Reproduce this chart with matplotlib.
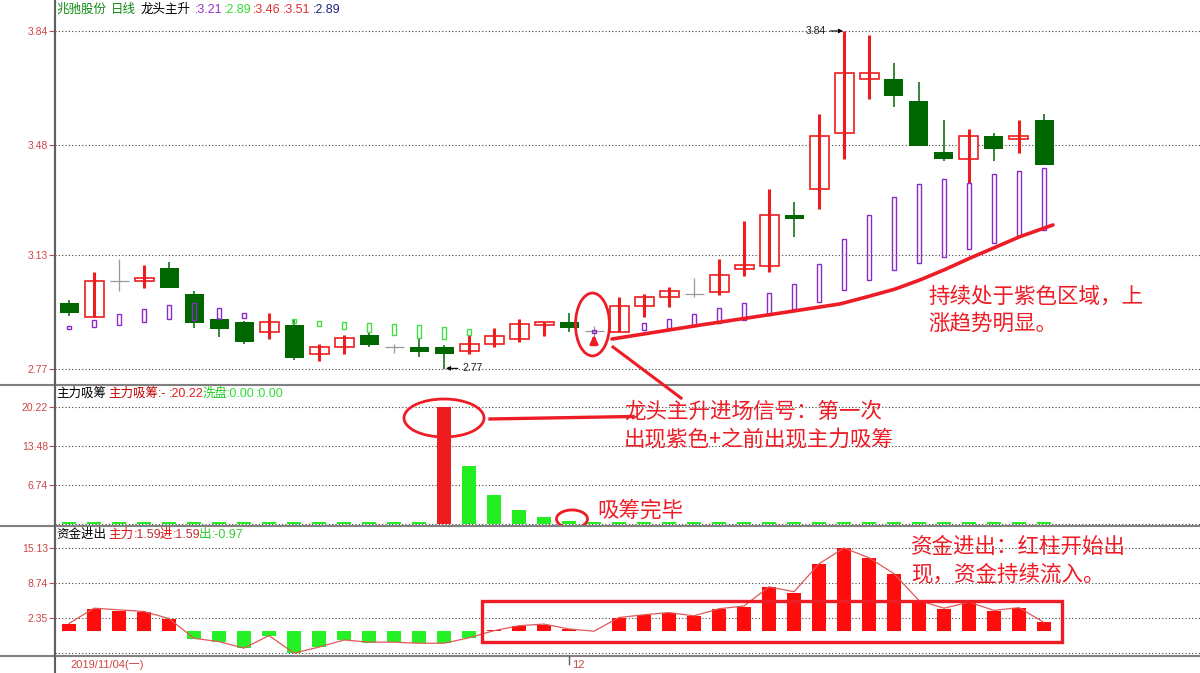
import numpy as np
import matplotlib.pyplot as plt
from matplotlib.patches import Ellipse, Rectangle
from matplotlib.lines import Line2D

plt.rcParams['font.family'] = ['Noto Sans CJK SC', 'DejaVu Sans']

W, H = 1200, 673
nan = np.nan

# 日K线: 开 高 低 收
opens = [2.980, 2.936, 3.049, 3.047, 3.090, 3.007, 2.928, 2.919, 2.886, 2.908,
         2.817, 2.840, 2.878, 2.839, 2.840, 2.839, 2.827, 2.848, 2.866, 2.908,
         2.919, 2.889, 2.886, 2.969, 2.997, 3.006, 3.015, 3.088, 3.097, 3.257,
         3.339, 3.516, 3.687, 3.688, 3.618, 3.457, 3.436, 3.508, 3.497, 3.558]
highs = [2.988, 3.077, 3.118, 3.099, 3.109, 3.017, 2.930, 2.922, 2.948, 2.928,
         2.849, 2.878, 2.888, 2.849, 2.868, 2.845, 2.878, 2.899, 2.927, 2.918,
         2.946, 2.906, 2.999, 3.007, 3.030, 3.057, 3.118, 3.239, 3.340, 3.298,
         3.577, 3.840, 3.827, 3.740, 3.680, 3.558, 3.531, 3.518, 3.558, 3.577]
lows = [2.938, 2.935, 3.017, 3.027, 3.027, 2.901, 2.871, 2.850, 2.866, 2.798,
        2.796, 2.817, 2.840, 2.820, 2.809, 2.770, 2.817, 2.840, 2.856, 2.875,
        2.888, 2.870, 2.886, 2.936, 2.967, 2.999, 3.004, 3.065, 3.076, 3.189,
        3.277, 3.436, 3.626, 3.600, 3.477, 3.429, 3.358, 3.429, 3.455, 3.417]
closes = [2.946, 3.049, 3.049, 3.058, 3.027, 2.917, 2.898, 2.856, 2.919, 2.806,
          2.840, 2.868, 2.847, 2.839, 2.825, 2.817, 2.848, 2.875, 2.911, 2.918,
          2.899, 2.889, 2.969, 2.999, 3.017, 3.006, 3.067, 3.098, 3.257, 3.246,
          3.508, 3.708, 3.708, 3.635, 3.477, 3.436, 3.508, 3.467, 3.508, 3.417]

# 龙头主升 紫色柱 (上沿, 下沿)
purple_top = [2.906, 2.925, 2.944, 2.960, 2.972, 2.979, 2.963, 2.947, nan, nan,
              nan, nan, nan, nan, nan, nan, nan, nan, nan, nan,
              nan, 2.893, nan, 2.915, 2.927, 2.944, 2.964, 2.978, 3.010, 3.039,
              3.102, 3.181, 3.258, 3.314, 3.356, 3.371, 3.358, 3.387, 3.397, 3.405]
purple_bot = [2.897, 2.903, 2.909, 2.920, 2.928, 2.925, 2.928, 2.931, nan, nan,
              nan, nan, nan, nan, nan, nan, nan, nan, nan, nan,
              nan, 2.884, nan, 2.893, 2.901, 2.907, 2.917, 2.925, 2.941, 2.959,
              2.983, 3.020, 3.052, 3.083, 3.107, 3.125, 3.149, 3.168, 3.191, 3.210]
# 浅绿柱
lime_top = [nan, nan, nan, nan, nan, nan, nan, nan, nan, 2.928,
            2.923, 2.919, 2.916, 2.912, 2.909, 2.903, 2.897, nan, nan, nan,
            nan, nan, nan, nan, nan, nan, nan, nan, nan, nan,
            nan, nan, nan, nan, nan, nan, nan, nan, nan, nan]
lime_bot = [nan, nan, nan, nan, nan, nan, nan, nan, nan, 2.916,
            2.907, 2.898, 2.888, 2.878, 2.868, 2.866, 2.878, nan, nan, nan,
            nan, nan, nan, nan, nan, nan, nan, nan, nan, nan,
            nan, nan, nan, nan, nan, nan, nan, nan, nan, nan]

# 主力吸筹 / 洗盘
zhuli_xichou = [0, 0, 0, 0, 0, 0, 0, 0, 0, 0,
                0, 0, 0, 0, 0, 20.22, 0, 0, 0, 0,
                0, 0, 0, 0, 0, 0, 0, 0, 0, 0,
                0, 0, 0, 0, 0, 0, 0, 0, 0, 0]
xipan = [0.3, 0.3, 0.3, 0.3, 0.3, 0.3, 0.3, 0.3, 0.3, 0.3,
         0.3, 0.3, 0.3, 0.3, 0.3, 0, 10.02, 5.01, 2.42, 1.21,
         0.5, 0.3, 0.3, 0.3, 0.3, 0.3, 0.3, 0.3, 0.3, 0.3,
         0.3, 0.3, 0.3, 0.3, 0.3, 0.3, 0.3, 0.3, 0.3, 0.3]

# 资金进出
zijin = [1.31, 4.05, 3.63, 3.45, 2.23, -1.37, -1.97, -3.00, -0.82, -3.93,
         -2.88, -1.61, -2.10, -2.05, -2.20, -2.20, -1.30, 0.20, 1.00, 1.20,
         0.40, 0.10, 2.47, 2.96, 3.32, 2.72, 4.05, 4.47, 8.07, 7.03,
         12.27, 15.19, 13.37, 10.45, 5.46, 4.11, 5.28, 3.74, 4.29, 1.59]
jin_line = [1.4, 4.2, 3.9, 3.6, 2.3, -1.3, -1.9, -3.1, -0.8, -4.0,
            -2.9, -1.6, -2.0, -2.0, -2.2, -2.2, -1.2, 0.1, 1.0, 1.3,
            0.4, 0.0, 2.5, 3.0, 3.4, 2.8, 4.1, 4.6, 8.1, 7.2,
            12.3, 15.2, 13.4, 10.5, 5.6, 4.2, 5.3, 3.8, 4.3, 1.6]

price_ticks = [3.84, 3.48, 3.13, 2.77]
mid_ticks = [20.22, 13.48, 6.74]
bot_ticks = [15.13, 8.74, 2.35]

RED = '#ee1c1c'
DGREEN = '#006600'
PURPLE = '#8a2bc8'
LIME = '#44dd44'
BGREEN = '#22ee22'
TICKC = '#cc4444'
ANN = '#ee1c25'


def fx(px):
    return px / W


def fy(py):
    return 1 - py / H


fig = plt.figure(figsize=(12, 6.73), dpi=100)
fig.patch.set_facecolor('white')

x0, x1 = 55, 1200
ax1 = fig.add_axes([fx(x0), fy(385), fx(x1) - fx(x0), (385 - 0) / H])
ax2 = fig.add_axes([fx(x0), fy(525), fx(x1) - fx(x0), (525 - 385) / H])
ax3 = fig.add_axes([fx(x0), fy(656), fx(x1) - fx(x0), (656 - 525) / H])

xlim = (-0.56, 45.24)


def style(ax, ticks, grid_vals, ylim):
    ax.set_xlim(*xlim)
    ax.set_ylim(*ylim)
    for s in ['top', 'right', 'bottom']:
        ax.spines[s].set_visible(False)
    ax.spines['left'].set_color('#606060')
    ax.spines['left'].set_linewidth(1.5)
    ax.set_xticks([])
    ax.set_yticks(ticks)
    ax.set_yticklabels(['%.2f' % t for t in ticks])
    ax.tick_params(axis='y', colors=TICKC, labelsize=7.5, length=4, width=0.8, pad=1)
    for lab in ax.get_yticklabels():
        lab.set_family(['Liberation Sans', 'DejaVu Sans'])
    for g in grid_vals:
        ax.axhline(g, color='#444444', lw=0.8, ls=(0, (1, 2)), zorder=0)


style(ax1, price_ticks, price_ticks, (2.7194, 3.938))
style(ax2, mid_ticks, mid_ticks + [0.0], (-0.21, 23.93))
style(ax3, bot_ticks, bot_ticks + [-4.04], (-4.53, 19.39))

# ---- K线
o = np.array(opens)
h = np.array(highs)
l = np.array(lows)
c = np.array(closes)
xs = np.arange(len(o))
up = c > o
dn = c < o
flat = c == o
bw = 0.76

ax1.bar(xs[dn], (o - c)[dn], bottom=c[dn], width=bw, color=DGREEN, zorder=3)
ax1.vlines(xs[dn], l[dn], h[dn], color=DGREEN, lw=1.1, zorder=2)
ax1.bar(xs[up], (c - o)[up], bottom=o[up], width=bw, facecolor='white',
        edgecolor=RED, lw=1.2, zorder=3)
ax1.vlines(xs[up], l[up], h[up], color=RED, lw=2.2, zorder=4)
ax1.vlines(xs[flat], l[flat], h[flat], color='#999999', lw=0.9, zorder=3)
ax1.hlines(c[flat], xs[flat] - bw / 2, xs[flat] + bw / 2, color='#999999', lw=0.9, zorder=3)

pt = np.array(purple_top)
pb = np.array(purple_bot)
m = ~np.isnan(pt)
ax1.bar(xs[m], (pt - pb)[m], bottom=pb[m], width=0.16, facecolor='none',
        edgecolor=PURPLE, lw=1.0, zorder=5)
lt = np.array(lime_top)
lb = np.array(lime_bot)
m = ~np.isnan(lt)
ax1.bar(xs[m], (lt - lb)[m], bottom=lb[m], width=0.16, facecolor='none',
        edgecolor=LIME, lw=1.0, zorder=5)

# 最高/最低标注
ax1.annotate('3.84', xy=(30.96, 3.84), xytext=(30.28, 3.84), ha='right', va='center',
             fontsize=7.5, family=['Liberation Sans', 'DejaVu Sans'], color='#222222',
             arrowprops=dict(arrowstyle='-|>', color='black', lw=0.8, mutation_scale=6,
                             shrinkA=1, shrinkB=0))
ax1.annotate('2.77', xy=(15.08, 2.772), xytext=(15.72, 2.772), ha='left', va='center',
             fontsize=7.5, family=['Liberation Sans', 'DejaVu Sans'], color='#222222',
             arrowprops=dict(arrowstyle='-|>', color='black', lw=0.8, mutation_scale=6,
                             shrinkA=1, shrinkB=0))

# ---- 主力吸筹
ax2.bar(xs, zhuli_xichou, width=0.58, color=RED, zorder=3)
ax2.bar(xs, xipan, width=0.58, color=BGREEN, zorder=3)

# ---- 资金进出
zj = np.array(zijin)
ax3.bar(xs, zj, width=0.58, color=np.where(zj >= 0, '#ff0d0d', '#26f026'), zorder=3)
ax3.plot(xs, jin_line, color='#e05858', lw=0.9, zorder=4)

# ---- 分隔线
for yy in [385, 525.5, 656]:
    fig.add_artist(Line2D([0, 1], [fy(yy), fy(yy)], transform=fig.transFigure,
                          color='#808080', lw=1.5))
fig.add_artist(Line2D([fx(55), fx(55)], [fy(18), fy(673)], transform=fig.transFigure,
                      color='#606060', lw=1.5))

# ---- 标题栏
num = ['Liberation Sans', 'Noto Sans CJK SC']


def head(px, py, s, col):
    fig.text(fx(px), fy(py), s, color=col, fontsize=9, va='center', ha='left', family=num)


head(56, 10, '兆驰股份', '#108a10')
head(111, 10, '日线', '#108a10')
head(141, 10, '龙头主升', 'black')
head(195, 10, ':3.21', '#9933cc')
head(224, 10, ':2.89', '#33dd33')
head(253, 10, ':3.46', '#e03030')
head(283, 10, ':3.51', '#e03030')
head(313, 10, ':2.89', '#222288')

head(56, 394, '主力吸筹', 'black')
head(108, 394, '主力吸筹:-', '#c00000')
head(169, 394, ':20.22', '#e02020')
head(203, 394, '洗盘', '#22cc22')
head(227, 394, ':0.00', '#33dd33')
head(256, 394, ':0.00', '#33dd33')

head(56, 535, '资金进出', 'black')
head(108, 535, '主力', '#e01010')
head(134, 535, ':1.59', '#c03030')
head(160, 535, '进', '#e01010')
head(173, 535, ':1.59', '#c03030')
head(199, 535, '出', '#22cc22')
head(212, 535, ':-0.97', '#33cc33')

# ---- 日期
fig.text(fx(70), fy(665), '2019/11/04(一)', color=TICKC, fontsize=8, va='center', family=num)
fig.add_artist(Line2D([fx(569), fx(569)], [fy(656), fy(664)], transform=fig.transFigure,
                      color='#606060', lw=1))
fig.text(fx(572), fy(665), '12', color=TICKC, fontsize=8, va='center', family=num)

# ---- 注释
ax1.add_patch(Ellipse((20.94, 2.911), 1.36, 0.199, fill=False, ec=ANN, lw=2.0,
                      zorder=6, clip_on=False))
ax1.annotate('', xy=(21.0, 2.886), xytext=(21.0, 2.849),
             arrowprops=dict(arrowstyle='-|>', color=ANN, lw=2.2, mutation_scale=11))
trend_x = [21.72, 25.24, 28.44, 30.84, 32.04, 33.04, 34.04, 35.04, 36.04, 37.04, 38.04, 39.36]
trend_y = [2.865, 2.909, 2.947, 2.976, 3.001, 3.023, 3.052, 3.085, 3.121, 3.155, 3.189, 3.226]
ax1.plot(trend_x, trend_y, color=ANN, lw=2.6, zorder=6, solid_capstyle='round',
         solid_joinstyle='round')

fig.add_artist(Line2D([fx(613), fx(681)], [fy(347), fy(398)], transform=fig.transFigure,
                      color=ANN, lw=2.2))

ax2.add_patch(Ellipse((15.0, 18.24), 3.2, 6.55, fill=False, ec=ANN, lw=2.0,
                      zorder=6, clip_on=False))
ax2.plot([16.84, 22.56], [18.07, 18.5], color=ANN, lw=2.4, zorder=6, clip_on=False)
ax2.add_patch(Ellipse((20.12, 0.83), 1.24, 3.1, fill=False, ec=ANN, lw=2.0,
                      zorder=6, clip_on=False))

ax3.add_patch(Rectangle((16.51, -1.92), 23.2, 7.43, fill=False, ec=ANN, lw=2.4,
                        zorder=6, clip_on=False))


def note(px, py, s):
    fig.text(fx(px), fy(py), s, color=ANN, fontsize=15.5, va='center', ha='left')


note(624, 412, '龙头主升进场信号：第一次')
note(624, 440, '出现紫色+之前出现主力吸筹')
note(597, 511, '吸筹完毕')
note(928, 297, '持续处于紫色区域，上')
note(928, 324, '涨趋势明显。')
note(911, 547, '资金进出：红柱开始出')
note(911, 574, '现，资金持续流入。')

fig.savefig('out.png', dpi=100, facecolor='white')
